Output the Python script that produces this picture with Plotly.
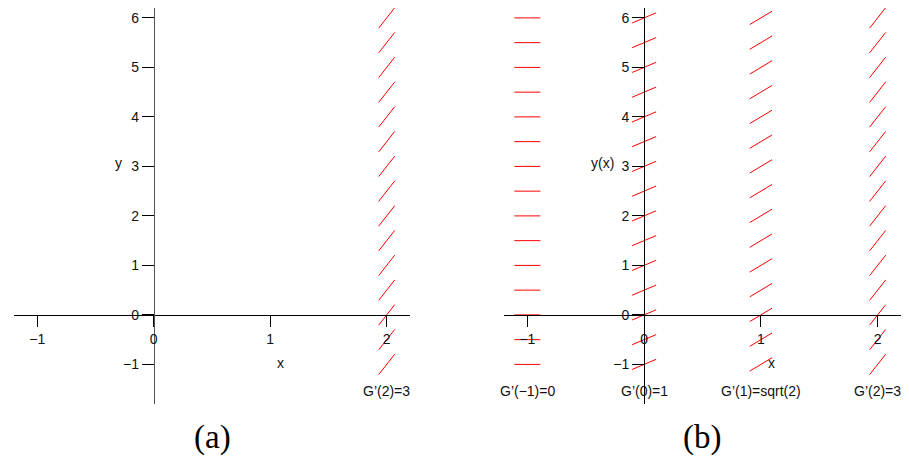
import math
import plotly.graph_objects as go

# ---------------- data ----------------
x_range = [-1.2, 2.2]
y_range = [-1.8, 6.2]
x_ticks = [-1, 0, 1, 2]
y_ticks = [-1, 0, 1, 2, 3, 4, 5, 6]
y_samples = [-1, -0.5, 0, 0.5, 1, 1.5, 2, 2.5, 3, 3.5, 4, 4.5, 5, 5.5, 6]

left_x = [2]
left_slopes = [3]
left_labels = ["G’(2)=3"]

right_x = [-1, 0, 1, 2]
right_slopes = [0, 1, math.sqrt(2), 3]
right_labels = ["G’(−1)=0", "G’(0)=1", "G’(1)=sqrt(2)", "G’(2)=3"]

# ---------------- layout geometry ----------------
W, H = 909, 457
OFF = 8  # page body margin offset
px_x1 = (14 - OFF, 410 - OFF)
px_x2 = (504 - OFF, 901 - OFF)
px_y = (8 - OFF, 404 - OFF)          # top, bottom in pixels
seg_half_px = 13

xdom1 = [px_x1[0] / W, px_x1[1] / W]
xdom2 = [px_x2[0] / W, px_x2[1] / W]
ydom = [(H - px_y[1]) / H, (H - px_y[0]) / H]

sx = (px_x1[1] - px_x1[0]) / (x_range[1] - x_range[0])
sy = (px_y[1] - px_y[0]) / (y_range[1] - y_range[0])


def frac(v, r):
    return (v - r[0]) / (r[1] - r[0])


y0_paper = ydom[0] + frac(0, y_range) * (ydom[1] - ydom[0])
x0_paper1 = xdom1[0] + frac(0, x_range) * (xdom1[1] - xdom1[0])
x0_paper2 = xdom2[0] + frac(0, x_range) * (xdom2[1] - xdom2[0])


def segments(xs, slopes):
    X, Y = [], []
    for xc, m in zip(xs, slopes):
        dx = seg_half_px / math.sqrt(sx ** 2 + (sy * m) ** 2)
        for yc in y_samples:
            X += [xc - dx, xc + dx, None]
            Y += [yc - m * dx, yc + m * dx, None]
    return X, Y


fig = go.Figure()
lx, ly = segments(left_x, left_slopes)
fig.add_trace(go.Scatter(x=lx, y=ly, mode="lines", line=dict(color="#ff0000", width=1),
                         xaxis="x", yaxis="y", showlegend=False, hoverinfo="skip"))
rx, ry = segments(right_x, right_slopes)
fig.add_trace(go.Scatter(x=rx, y=ry, mode="lines", line=dict(color="#ff0000", width=1),
                         xaxis="x2", yaxis="y2", showlegend=False, hoverinfo="skip"))

tickfont = dict(family="Liberation Sans, Arial, sans-serif", size=14, color="#111")

xcommon = dict(range=x_range, tickvals=x_ticks, showgrid=False, zeroline=False,
               showline=True, linecolor="black", linewidth=1, ticks="outside",
               ticklen=11, tickcolor="black", tickwidth=1, tickfont=tickfont,
               anchor="free", position=y0_paper, side="bottom", fixedrange=True)
ycommon = dict(range=y_range, tickvals=y_ticks, showgrid=False, zeroline=False,
               showline=True, linewidth=1, ticks="outside",
               ticklen=12, tickwidth=1, tickfont=tickfont,
               anchor="free", side="left", domain=ydom, fixedrange=True)

fig.update_layout(
    width=W, height=H,
    margin=dict(l=0, r=0, t=0, b=0),
    paper_bgcolor="white", plot_bgcolor="rgba(0,0,0,0)",
    xaxis=dict(domain=xdom1, **xcommon),
    xaxis2=dict(domain=xdom2, **xcommon),
    yaxis=dict(position=x0_paper1, linecolor="#555", tickcolor="black", **ycommon),
    yaxis2=dict(position=x0_paper2, linecolor="black", tickcolor="black", **ycommon),
)

labfont = dict(family="Liberation Sans, Arial, sans-serif", size=14, color="#111")
ann = []


def add(x, y, xref, yref, text, font):
    ann.append(dict(x=x, y=y, xref=xref, yref=yref, text=text, showarrow=False,
                    xanchor="center", yanchor="middle", font=font))


# axis labels
add(-0.30, 3.07, "x", "y", "y", labfont)
add(1.09, -0.97, "x", "y", "x", labfont)
add(-0.36, 3.07, "x2", "y2", "y(x)", labfont)
add(1.09, -0.97, "x2", "y2", "x", labfont)
# column labels
for xc, t in zip(left_x, left_labels):
    add(xc, -1.535, "x", "y", t, labfont)
for xc, t in zip(right_x, right_labels):
    add(xc, -1.535, "x2", "y2", t, labfont)
# captions
capfont = dict(family="Liberation Serif, Times New Roman, serif", size=33, color="black")
add((212 - OFF) / W, (H - (437 - OFF)) / H, "paper", "paper", "(a)", capfont)
add((702 - OFF) / W, (H - (437 - OFF)) / H, "paper", "paper", "(b)", capfont)
fig.update_layout(annotations=ann)

fig.write_html("out.html")
